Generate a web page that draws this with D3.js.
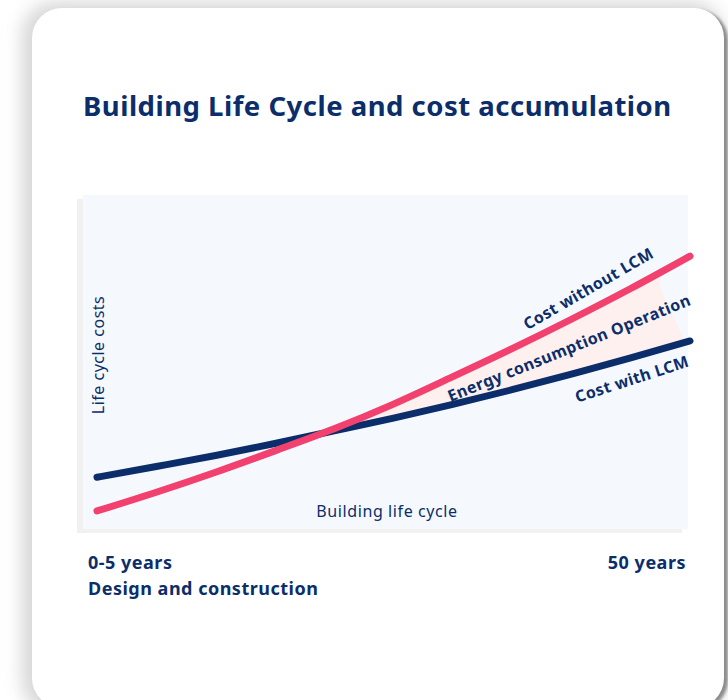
<!DOCTYPE html>
<html>
<head>
<meta charset="utf-8">
<script src="https://cdn.jsdelivr.net/npm/d3@7"></script>
<style>
  html, body { margin: 0; padding: 0; background: #ffffff; }
  svg { display: block; }
  text { font-family: "Noto Sans", "Open Sans", sans-serif; fill: #0b2e6b; }
</style>
</head>
<body>
<div id="vis"></div>
<script>
// years along the building life cycle
var years = [0, 5, 10, 15, 20, 25, 30, 35, 40, 45, 50];
// accumulated cost (arbitrary units)
var costWithLCM    = [15.5, 18.7, 22.0, 25.6, 29.4, 33.2, 37.3, 41.7, 46.4, 51.2, 56.3];
var costWithoutLCM = [5.4, 11.0, 17.0, 23.4, 30.0, 37.4, 45.6, 54.0, 62.8, 72.0, 81.7];

var startLabel = ["0-5 years", "Design and construction"];
var endLabel = "50 years";

var width = 728, height = 700;
var navy = "#0b2e6b", pink = "#f2416f";

var svg = d3.select("#vis").append("svg")
  .attr("width", width)
  .attr("height", height);

var defs = svg.append("defs");
var blur = defs.append("filter").attr("id", "soft")
  .attr("x", "-10%").attr("y", "-10%").attr("width", "120%").attr("height", "120%");
blur.append("feGaussianBlur").attr("stdDeviation", 9);
var blur2 = defs.append("filter").attr("id", "hard")
  .attr("x", "-10%").attr("y", "-10%").attr("width", "120%").attr("height", "120%");
blur2.append("feGaussianBlur").attr("stdDeviation", 1.5);

// card with shadow
svg.append("rect")
  .attr("x", 22).attr("y", 2).attr("width", 702).attr("height", 712)
  .attr("rx", 34).attr("fill", "#d6d6d6")
  .attr("filter", "url(#soft)");
svg.append("rect")
  .attr("x", 36).attr("y", 10).attr("width", 692).attr("height", 700)
  .attr("rx", 30).attr("fill", "#8d8d8d")
  .attr("filter", "url(#hard)");
svg.append("rect")
  .attr("x", 32).attr("y", 8).attr("width", 692).attr("height", 700)
  .attr("rx", 30).attr("fill", "#ffffff");

// title
svg.append("text")
  .attr("x", 83).attr("y", 116)
  .style("font-size", "27.5px")
  .style("font-weight", 700)
  .style("letter-spacing", "0.5px")
  .text("Building Life Cycle and cost accumulation");

// plot background
svg.append("rect")
  .attr("x", 77).attr("y", 199).attr("width", 605).attr("height", 334)
  .attr("fill", "#f1f1f1");
svg.append("rect")
  .attr("x", 83).attr("y", 195).attr("width", 605).attr("height", 334)
  .attr("fill", "#f5f9fd");

var x = d3.scaleLinear().domain([0, 50]).range([97, 690]);
var y = d3.scaleLinear().domain([0, 100]).range([529, 195]);

var rows = years.map(function(d, i) {
  return { year: d, withLCM: costWithLCM[i], withoutLCM: costWithoutLCM[i] };
});

// energy consumption band between the two curves (after they cross)
var bandRows = rows.filter(function(d) { return d.year >= 15; });
var area = d3.area()
  .x(function(d) { return x(d.year); })
  .y0(function(d) { return y(d.withLCM); })
  .y1(function(d) { return y(Math.max(d.withLCM, d.withoutLCM)); })
  .curve(d3.curveMonotoneX);

svg.append("clipPath").attr("id", "bandclip")
  .append("path")
  .attr("d", "M" + x(0) + ",195 L" + x(47.5) + ",195 L" + x(47.5) + "," + y(72)
    + " L" + x(49.6) + "," + y(56) + " L" + x(49.6) + ",529 L" + x(0) + ",529 Z");

svg.append("path")
  .datum(bandRows)
  .attr("d", area)
  .attr("fill", "#fdf0ee")
  .attr("clip-path", "url(#bandclip)");

var lineWith = d3.line()
  .x(function(d) { return x(d.year); })
  .y(function(d) { return y(d.withLCM); })
  .curve(d3.curveMonotoneX);
var lineWithout = d3.line()
  .x(function(d) { return x(d.year); })
  .y(function(d) { return y(d.withoutLCM); })
  .curve(d3.curveMonotoneX);

svg.append("path")
  .datum(rows)
  .attr("d", lineWith)
  .attr("fill", "none")
  .attr("stroke", navy)
  .attr("stroke-width", 7)
  .attr("stroke-linecap", "round");

svg.append("path")
  .datum(rows)
  .attr("d", lineWithout)
  .attr("fill", "none")
  .attr("stroke", pink)
  .attr("stroke-width", 7)
  .attr("stroke-linecap", "round");

// labels along the curves
function curveLabel(txt, yr, val, dy, angle) {
  var px = x(yr), py = y(val) + dy;
  svg.append("text")
    .attr("transform", "translate(" + px + "," + py + ") rotate(" + angle + ")")
    .style("font-size", "16px")
    .style("font-weight", 700)
    .style("letter-spacing", "0.4px")
    .text(txt);
}
curveLabel("Cost without LCM", 36.3, 56.5, -10, -30);
curveLabel("Energy consumption Operation", 29.8, 38, 0, -22);
curveLabel("Cost with LCM", 40.5, 46.5, 29, -18);

// axis titles
svg.append("text")
  .attr("transform", "translate(104,355) rotate(-90)")
  .attr("text-anchor", "middle")
  .style("font-size", "16px")
  .style("letter-spacing", "0.5px")
  .text("Life cycle costs");

svg.append("text")
  .attr("x", 387).attr("y", 517)
  .attr("text-anchor", "middle")
  .style("font-size", "16px")
  .style("letter-spacing", "0.6px")
  .text("Building life cycle");

// bottom labels
svg.selectAll(".start-label")
  .data(startLabel)
  .enter().append("text")
  .attr("class", "start-label")
  .attr("x", 88)
  .attr("y", function(d, i) { return 569 + i * 26; })
  .style("font-size", "18px")
  .style("font-weight", 700)
  .style("letter-spacing", "0.5px")
  .text(function(d) { return d; });

svg.append("text")
  .attr("x", 686).attr("y", 569)
  .attr("text-anchor", "end")
  .style("font-size", "18px")
  .style("font-weight", 700)
  .style("letter-spacing", "0.5px")
  .text(endLabel);
</script>
</body>
</html>
